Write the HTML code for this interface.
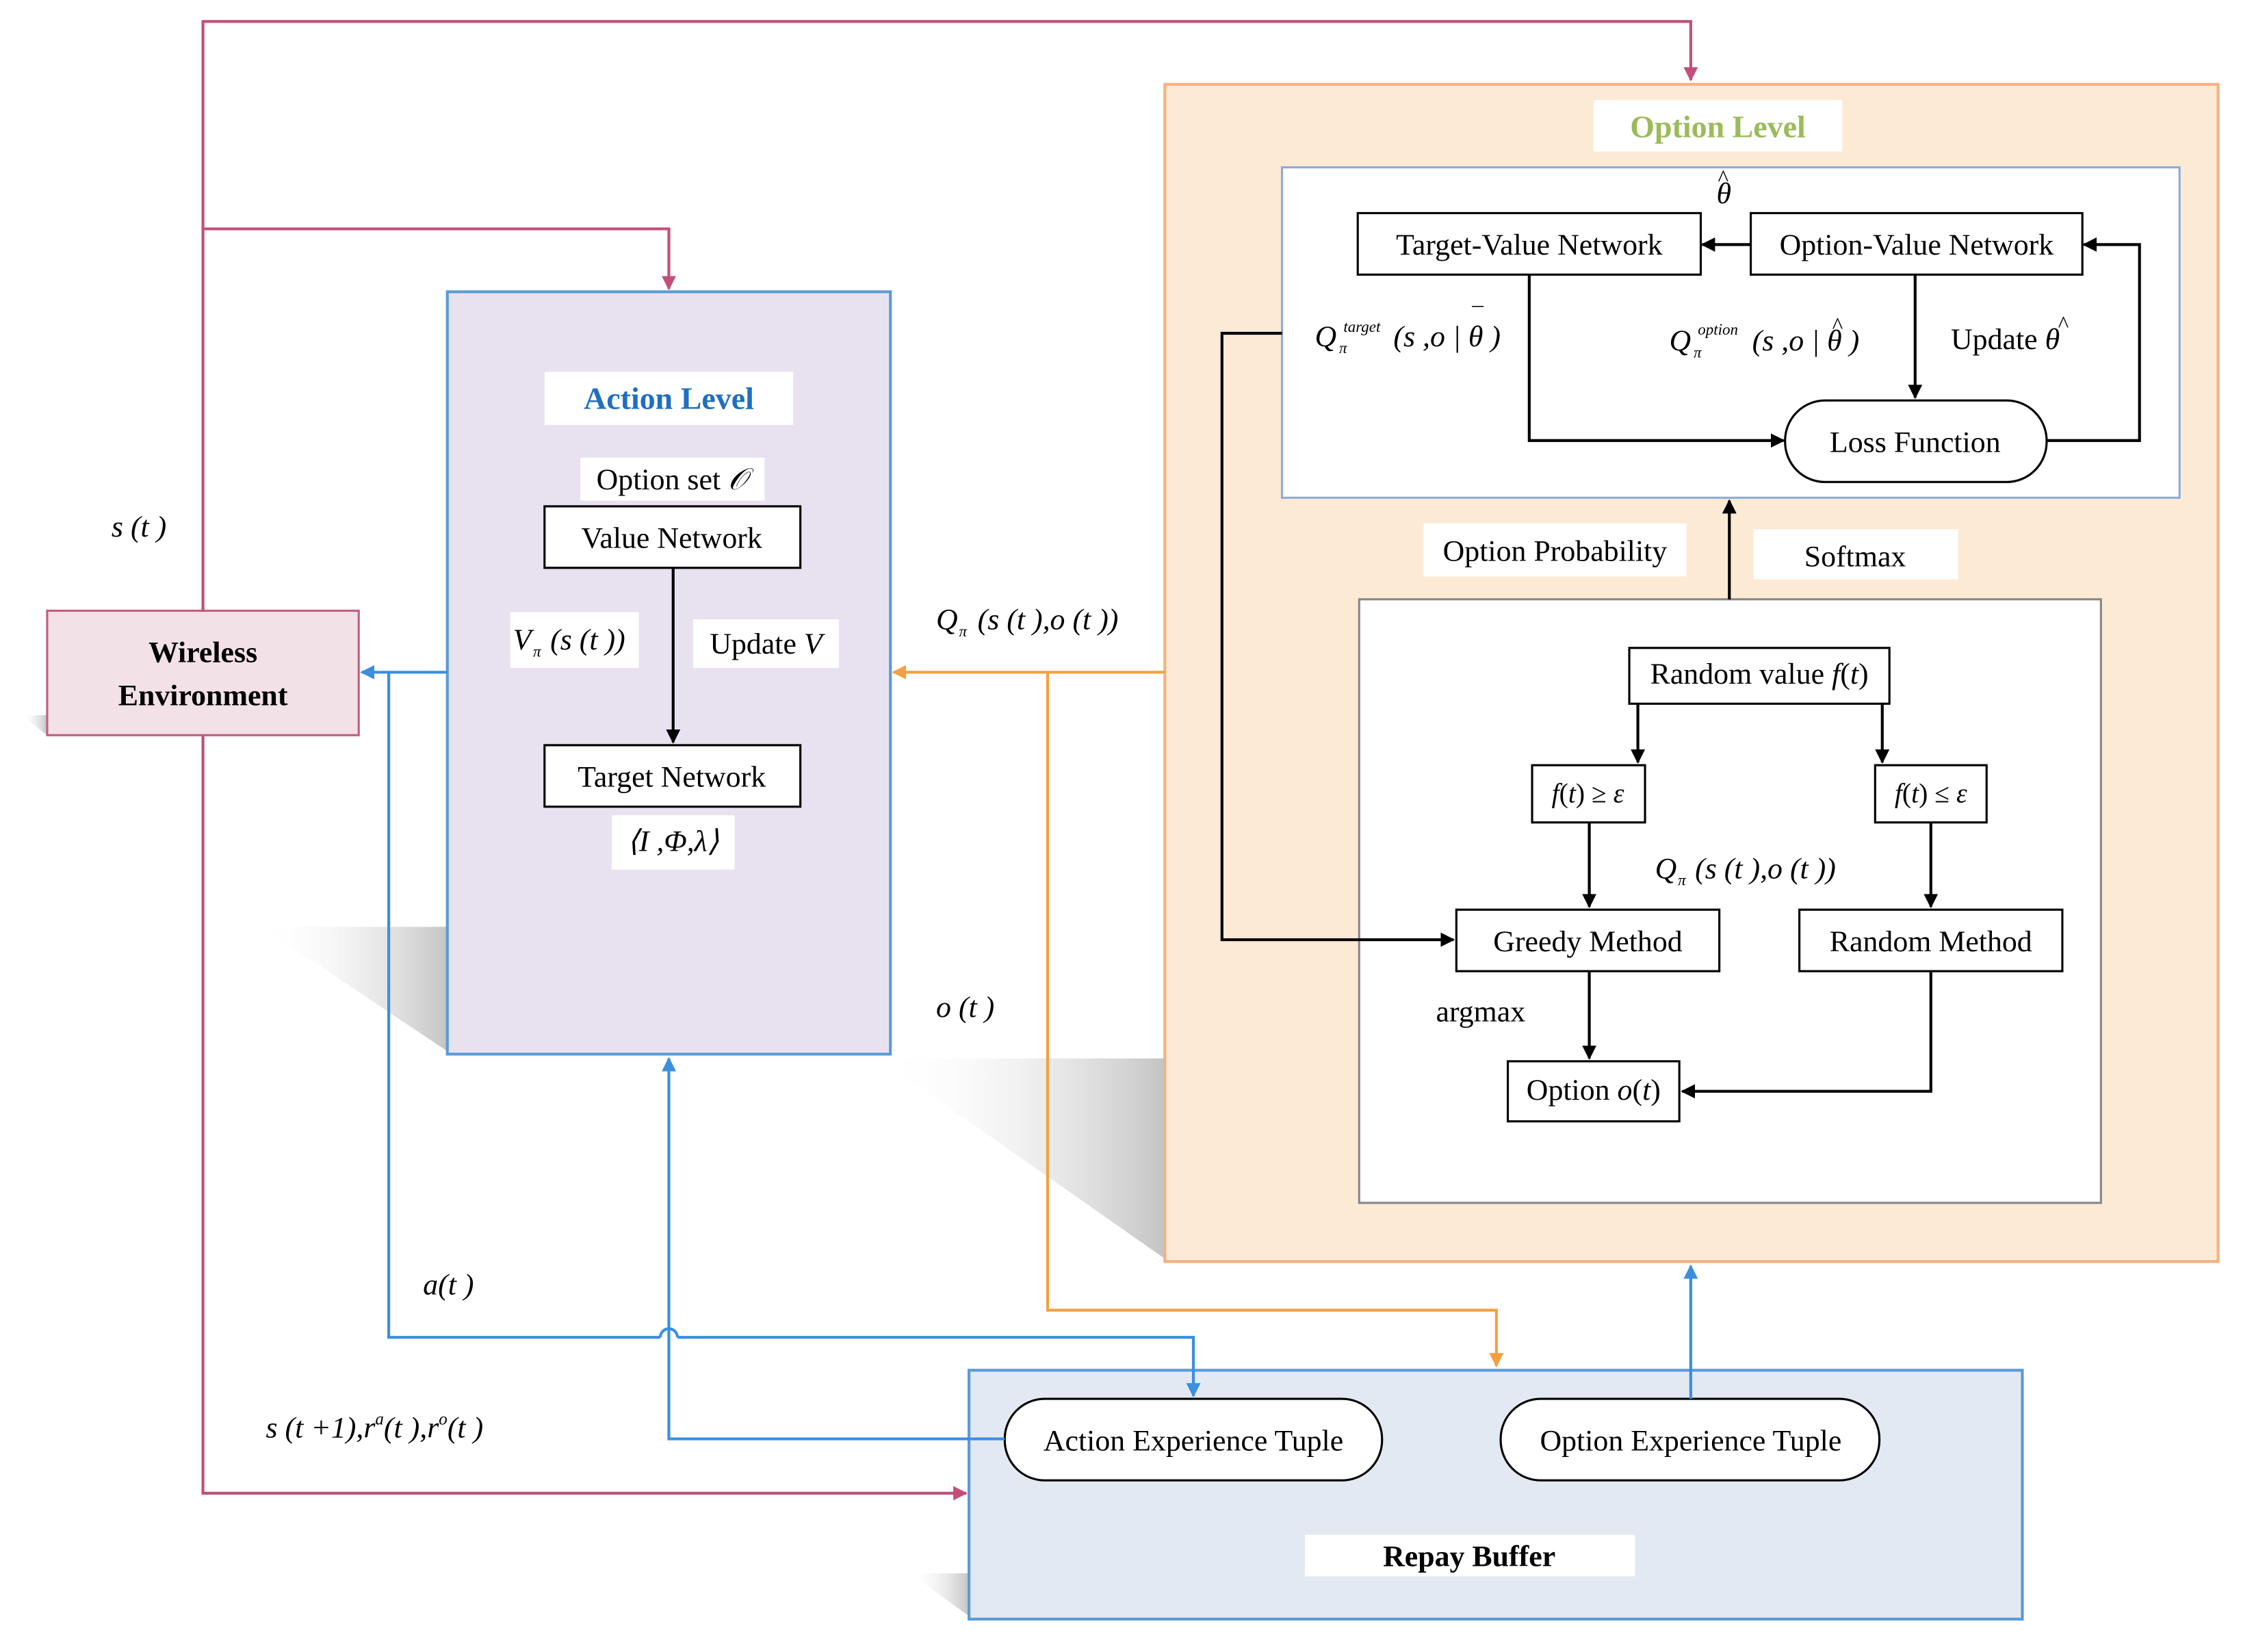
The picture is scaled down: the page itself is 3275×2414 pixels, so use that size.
<!DOCTYPE html>
<html><head><meta charset="utf-8"><style>
html,body{margin:0;padding:0;background:#fff;}
svg{display:block;}
text{font-family:"Liberation Serif",serif;font-size:21px;fill:#000;}
.i{font-style:italic;}
.s{font-size:11px;font-style:italic;}
</style></head><body>
<svg width="3275" height="2414" viewBox="0 0 1568 1155" preserveAspectRatio="none" xmlns="http://www.w3.org/2000/svg">
<defs>
<marker id="ab" markerWidth="10" markerHeight="10" refX="9" refY="5" orient="auto" markerUnits="userSpaceOnUse"><path d="M0,0 L10,5 L0,10 z" fill="#000"/></marker>
<marker id="ap" markerWidth="10" markerHeight="10" refX="9" refY="5" orient="auto" markerUnits="userSpaceOnUse"><path d="M0,0 L10,5 L0,10 z" fill="#c0507a"/></marker>
<marker id="au" markerWidth="10" markerHeight="10" refX="9" refY="5" orient="auto" markerUnits="userSpaceOnUse"><path d="M0,0 L10,5 L0,10 z" fill="#3b8ee0"/></marker>
<marker id="ao" markerWidth="10" markerHeight="10" refX="9" refY="5" orient="auto" markerUnits="userSpaceOnUse"><path d="M0,0 L10,5 L0,10 z" fill="#f4a040"/></marker>
<linearGradient id="sh" x1="0" y1="0" x2="1" y2="0"><stop offset="0" stop-color="#fff" stop-opacity="0"/><stop offset="1" stop-color="#c4c4c4"/></linearGradient>
</defs>
<polygon points="183,648 313,648 313,735" fill="url(#sh)"/>
<polygon points="615,740 815,740 815,880" fill="url(#sh)"/>
<polygon points="848,770 951,770 951,840" fill="url(#sh)"/>
<polygon points="848,310 897,310 897,345" fill="url(#sh)"/>
<polygon points="15,500 33,500 33,514" fill="url(#sh)"/>
<polygon points="637,1100 678,1100 678,1130" fill="url(#sh)"/>

<rect x="815" y="59" width="737" height="823" fill="#fdead5" stroke="#f4b183" stroke-width="2"/>
<rect x="1115" y="70" width="174" height="36" fill="#fff"/>
<text x="1202" y="96" text-anchor="middle" style="fill:#9bbb59;font-weight:bold;font-size:22px">Option Level</text>
<rect x="897" y="117" width="628" height="231" fill="#fff" stroke="#8faadc" stroke-width="1.5"/>
<rect x="951" y="419" width="519" height="422" fill="#fff" stroke="#888" stroke-width="1.5"/>
<rect x="996" y="366" width="184" height="37" fill="#fff"/>
<text x="1088" y="392" text-anchor="middle">Option Probability</text>
<rect x="1227" y="370" width="143" height="35" fill="#fff"/>
<text x="1298" y="396" text-anchor="middle">Softmax</text>

<g fill="#fff" stroke="#000" stroke-width="1.5">
<rect x="950" y="149" width="240" height="43"/>
<rect x="1225" y="149" width="232" height="43"/>
<rect x="1249" y="280" width="183" height="57" rx="28"/>
<rect x="1140" y="453" width="182" height="39"/>
<rect x="1072" y="535" width="79" height="40"/>
<rect x="1312" y="535" width="78" height="40"/>
<rect x="1019" y="636" width="184" height="43"/>
<rect x="1259" y="636" width="184" height="43"/>
<rect x="1055" y="742" width="120" height="42"/>
</g>
<text x="1070" y="178" text-anchor="middle">Target-Value Network</text>
<text x="1341" y="178" text-anchor="middle">Option-Value Network</text>
<text x="1340" y="316" text-anchor="middle">Loss Function</text>
<text x="1231" y="478" text-anchor="middle">Random value <tspan class="i">f</tspan>(<tspan class="i">t</tspan>)</text>
<text x="1111" y="561" text-anchor="middle" style="font-size:19px"><tspan class="i">f</tspan>(<tspan class="i">t</tspan>) ≥ <tspan class="i">ε</tspan></text>
<text x="1351" y="561" text-anchor="middle" style="font-size:19px"><tspan class="i">f</tspan>(<tspan class="i">t</tspan>) ≤ <tspan class="i">ε</tspan></text>
<text x="1111" y="665" text-anchor="middle">Greedy Method</text>
<text x="1351" y="665" text-anchor="middle">Random Method</text>
<text x="1115" y="769" text-anchor="middle">Option <tspan class="i">o</tspan>(<tspan class="i">t</tspan>)</text>
<text x="1036" y="714" text-anchor="middle">argmax</text>
<!-- theta hat label -->
<text x="1201" y="142" class="i">θ</text><text x="1202" y="130" style="font-size:16px">^</text>
<!-- Q target -->
<text x="920" y="242" class="i">Q</text><text x="940" y="232" class="s">target</text><text x="937" y="247" class="s">π</text>
<text x="975" y="242" class="i">(s ,o | θ )</text><text x="1030" y="226" style="font-size:16px">¯</text>
<!-- Q option -->
<text x="1168" y="245" class="i">Q</text><text x="1188" y="234" class="s">option</text><text x="1185" y="250" class="s">π</text>
<text x="1226" y="245" class="i">(s ,o | θ )</text><text x="1282" y="233" style="font-size:16px">^</text>
<text x="1365" y="244">Update <tspan class="i">θ</tspan></text><text x="1440" y="232" style="font-size:16px">^</text>
<text x="1158" y="614" class="i">Q</text><text x="1174" y="619" class="s">π</text><text x="1186" y="614" class="i">(s (t ),o (t ))</text>

<g fill="none" stroke="#000" stroke-width="2">
<line x1="1225" y1="171" x2="1191" y2="171" marker-end="url(#ab)"/>
<polyline points="1432,308 1497,308 1497,171 1458,171" marker-end="url(#ab)"/>
<line x1="1340" y1="192" x2="1340" y2="278" marker-end="url(#ab)"/>
<polyline points="1070,192 1070,308 1248,308" marker-end="url(#ab)"/>
<polyline points="897,233 855,233 855,657 1017,657" marker-end="url(#ab)"/>
<line x1="1210" y1="419" x2="1210" y2="350" marker-end="url(#ab)"/>
<line x1="1146" y1="492" x2="1146" y2="533" marker-end="url(#ab)"/>
<line x1="1317" y1="492" x2="1317" y2="533" marker-end="url(#ab)"/>
<line x1="1112" y1="575" x2="1112" y2="634" marker-end="url(#ab)"/>
<line x1="1351" y1="575" x2="1351" y2="634" marker-end="url(#ab)"/>
<line x1="1112" y1="679" x2="1112" y2="740" marker-end="url(#ab)"/>
<polyline points="1351,679 1351,763 1177,763" marker-end="url(#ab)"/>
</g>

<rect x="313" y="204" width="310" height="533" fill="#e8e2f0" stroke="#5b9bd5" stroke-width="2"/>
<rect x="381" y="260" width="174" height="37" fill="#fff"/>
<text x="468" y="286" text-anchor="middle" style="fill:#1f6fc0;font-weight:bold;font-size:22px">Action Level</text>
<rect x="406" y="320" width="129" height="30" fill="#fff"/>
<text x="470" y="342" text-anchor="middle">Option set <tspan class="i">𝒪</tspan></text>
<rect x="381" y="354" width="179" height="43" fill="#fff" stroke="#000" stroke-width="1.5"/>
<text x="470" y="383" text-anchor="middle">Value Network</text>
<rect x="357" y="428" width="90" height="39" fill="#fff"/>
<text x="359" y="454" class="i">V</text><text x="373" y="459" class="s">π</text><text x="385" y="454" class="i">(s (t ))</text>
<rect x="485" y="433" width="102" height="34" fill="#fff"/>
<text x="536" y="457" text-anchor="middle">Update <tspan class="i">V</tspan></text>
<line x1="471" y1="397" x2="471" y2="519" stroke="#000" stroke-width="2" marker-end="url(#ab)"/>
<rect x="381" y="521" width="179" height="43" fill="#fff" stroke="#000" stroke-width="1.5"/>
<text x="470" y="550" text-anchor="middle">Target Network</text>
<rect x="428" y="570" width="86" height="38" fill="#fff"/>
<text x="471" y="595" text-anchor="middle" class="i">⟨I ,Φ,λ⟩</text>

<rect x="33" y="427" width="218" height="87" fill="#f2e1e6" stroke="#c06080" stroke-width="1.5"/>
<text x="142" y="463" text-anchor="middle" style="font-weight:bold">Wireless</text>
<text x="142" y="493" text-anchor="middle" style="font-weight:bold">Environment</text>

<rect x="678" y="958" width="737" height="174" fill="#e3e9f2" stroke="#5b9bd5" stroke-width="2"/>
<rect x="703" y="978" width="264" height="57" rx="28" fill="#fff" stroke="#000" stroke-width="1.5"/>
<text x="835" y="1014" text-anchor="middle">Action Experience Tuple</text>
<rect x="1050" y="978" width="265" height="57" rx="28" fill="#fff" stroke="#000" stroke-width="1.5"/>
<text x="1183" y="1014" text-anchor="middle">Option Experience Tuple</text>
<rect x="913" y="1073" width="231" height="29" fill="#fff"/>
<text x="1028" y="1095" text-anchor="middle" style="font-weight:bold">Repay Buffer</text>

<g fill="none" stroke="#c0507a" stroke-width="2">
<polyline points="142,427 142,15 1183,15 1183,56" marker-end="url(#ap)"/>
<polyline points="142,160 468,160 468,202" marker-end="url(#ap)"/>
<polyline points="142,514 142,1044 676,1044" marker-end="url(#ap)"/>
</g>
<g fill="none" stroke="#3b8ee0" stroke-width="2">
<line x1="313" y1="470" x2="253" y2="470" marker-end="url(#au)"/>
<polyline points="272,470 272,935 462,935"/>
<path d="M462,935 A6,6 0 0 1 474,935"/>
<polyline points="474,935 835,935 835,976" marker-end="url(#au)"/>
<polyline points="703,1006 468,1006 468,740" marker-end="url(#au)"/>
<line x1="1183" y1="978" x2="1183" y2="885" marker-end="url(#au)"/>
</g>
<g fill="none" stroke="#f4a040" stroke-width="2">
<line x1="815" y1="470" x2="625" y2="470" marker-end="url(#ao)"/>
<polyline points="733,470 733,916 1047,916 1047,955" marker-end="url(#ao)"/>
</g>

<text x="78" y="375" class="i">s (t )</text>
<text x="655" y="440" class="i">Q</text><text x="671" y="445" class="s">π</text><text x="684" y="440" class="i">(s (t ),o (t ))</text>
<text x="655" y="711" class="i">o (t )</text>
<text x="296" y="905" class="i">a(t )</text>
<text x="186" y="1005" class="i">s (t +1),r<tspan style="font-size:12px" dy="-9">a</tspan><tspan dy="9">(t ),r</tspan><tspan style="font-size:12px" dy="-9">o</tspan><tspan dy="9">(t )</tspan></text>
</svg>
</body></html>
